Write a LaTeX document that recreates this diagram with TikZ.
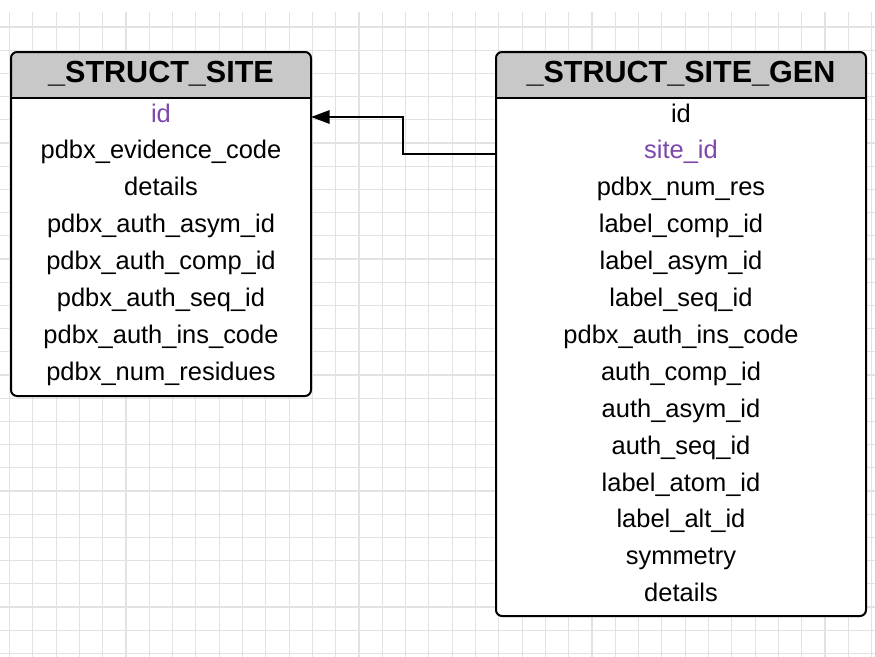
\documentclass[tikz,border=0pt]{standalone}
\usepackage{fontspec}
\setmainfont{Liberation Sans}
\usepackage{xcolor}
\usetikzlibrary{arrows.meta}
\definecolor{headgray}{RGB}{200,200,200}
\definecolor{keypurple}{RGB}{125,72,170}
\definecolor{gridgray}{RGB}{226,226,226}

\begin{document}
\begin{tikzpicture}[x=0.75pt,y=0.75pt,yscale=-1,xscale=1,
  gridline/.style={draw=gridgray, line width=0.8pt},
  tablebox/.style={fill=white, inner sep=0pt, outer sep=0pt, anchor=north west},
  tableborder/.style={draw=black, line width=1.5pt},
  titletext/.style={anchor=base, inner sep=0.75pt, font=\fontsize{22.9}{26}\selectfont\bfseries},
  field/.style={anchor=base, inner sep=0.75pt, font=\fontsize{19.1}{22}\selectfont},
  keyfield/.style={field, text=keypurple},
  fkarrow/.style={draw=black, line width=1.5pt, -{Triangle[length=14pt,width=10pt]}}]
\useasboundingbox (0,0) rectangle (875,657);

%Background grid
\foreach \k in {0,...,37} \draw[gridline] (9.5+23.3*\k,12) -- (9.5+23.3*\k,657);
\foreach \k in {0,...,27} \draw[gridline] (0,27+23.2*\k) -- (875,27+23.2*\k);

%Tables
\node[tablebox, minimum width=225pt, minimum height=258pt] (site) at (11,52) {};
\node[tablebox, minimum width=277.5pt, minimum height=423pt] (gen) at (496,52) {};

%Header bands and outlines (yshift runs downwards here, yscale=-1)
\foreach \t in {site,gen} {
  \begin{scope}
    \clip (\t.north west) rectangle ([yshift=34.5pt]\t.north east);
    \fill[headgray, rounded corners=4.5pt] (\t.north west) rectangle (\t.south east);
  \end{scope}
  \draw[tableborder] ([yshift=34.5pt]\t.north west) -- ([yshift=34.5pt]\t.north east);
  \draw[tableborder, rounded corners=4.5pt] (\t.north west) rectangle (\t.south east);
}

% Text Node
\node[titletext] (site-title) at (161,82) {\_STRUCT\_SITE};
% Text Node
\node[titletext] (gen-title) at (681,82) {\_STRUCT\_SITE\_GEN};

%Fields of _STRUCT_SITE
\foreach \txt/\sty [count=\i] in {id/keyfield, pdbx\_evidence\_code/field, details/field,
    pdbx\_auth\_asym\_id/field, pdbx\_auth\_comp\_id/field, pdbx\_auth\_seq\_id/field,
    pdbx\_auth\_ins\_code/field, pdbx\_num\_residues/field}
  \node[\sty] (site-\i) at (161,85.1+36.9*\i) {\txt};

%Fields of _STRUCT_SITE_GEN
\foreach \txt/\sty [count=\i] in {id/field, site\_id/keyfield, pdbx\_num\_res/field,
    label\_comp\_id/field, label\_asym\_id/field, label\_seq\_id/field,
    pdbx\_auth\_ins\_code/field, auth\_comp\_id/field, auth\_asym\_id/field,
    auth\_seq\_id/field, label\_atom\_id/field, label\_alt\_id/field,
    symmetry/field, details/field}
  \node[\sty] (gen-\i) at (681,85.1+36.9*\i) {\txt};

%Foreign key site_id -> id
\draw[fkarrow] ([yshift=-3.4pt]gen-2.base -| gen.west) -- ++(-93,0) |- ([yshift=-3.75pt]site-1.base -| site.east);
\end{tikzpicture}
\end{document}
